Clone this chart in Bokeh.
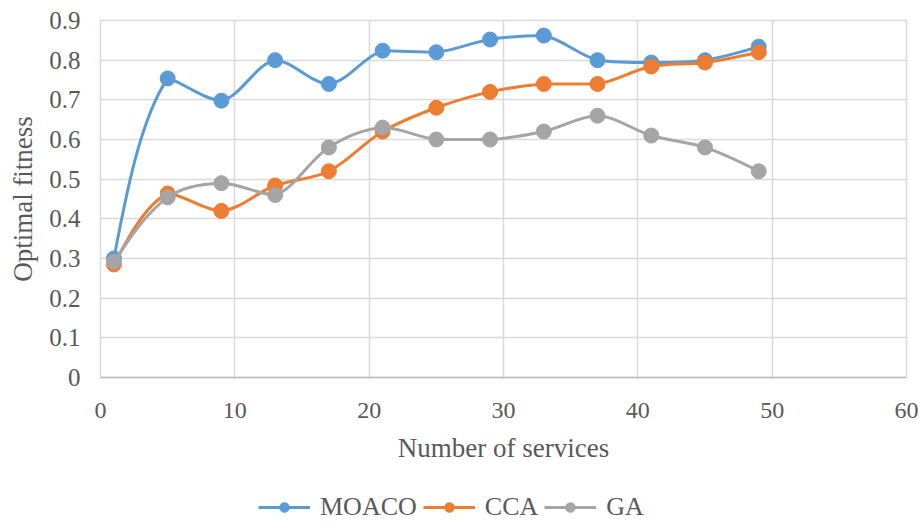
from bokeh.plotting import figure
from bokeh.models import Legend, LegendItem, ColumnDataSource, FixedTicker, Range1d
from bokeh.layouts import column
from bokeh.embed import file_html
from bokeh.resources import INLINE
import math

services = [1, 5, 9, 13, 17, 21, 25, 29, 33, 37, 41, 45, 49]
moaco = [0.30, 0.754, 0.698, 0.80, 0.74, 0.824, 0.82, 0.852, 0.862, 0.80, 0.794, 0.80, 0.834]
cca = [0.285, 0.464, 0.42, 0.484, 0.52, 0.62, 0.68, 0.72, 0.74, 0.74, 0.784, 0.794, 0.82]
ga = [0.292, 0.454, 0.49, 0.46, 0.58, 0.63, 0.60, 0.60, 0.62, 0.66, 0.61, 0.58, 0.52]
series_names = ["MOACO", "CCA", "GA"]
colors = ["#5B9BD5", "#ED7D31", "#A5A5A5"]
x_ticks = [0, 10, 20, 30, 40, 50, 60]
y_ticks = [0, 0.1, 0.2, 0.3, 0.4, 0.5, 0.6, 0.7, 0.8, 0.9]

FONT = "Liberation Serif"
TXT = "#595959"
GRID = "#D9D9D9"

p = figure(width=921, height=486, output_backend="svg", toolbar_location=None,
           x_range=Range1d(0, 60), y_range=Range1d(0, 0.9),
           min_border_left=100, min_border_right=15, min_border_top=20, min_border_bottom=109)
p.outline_line_color = GRID
p.outline_line_width = 1.5
p.background_fill_color = "white"
p.border_fill_color = "white"

for ax in (p.xaxis[0], p.yaxis[0]):
    ax.major_tick_line_color = None
    ax.minor_tick_line_color = None
    ax.major_label_text_font = FONT
    ax.major_label_text_font_size = "24px"
    ax.major_label_text_color = TXT
    ax.axis_label_text_font = FONT
    ax.axis_label_text_font_size = "27px"
    ax.axis_label_text_font_style = "normal"
    ax.axis_label_text_color = TXT
p.xaxis.ticker = FixedTicker(ticks=x_ticks)
p.yaxis.ticker = FixedTicker(ticks=y_ticks)
p.yaxis.major_label_text_font_size = "25px"
p.yaxis.major_label_overrides = {t: ("0" if t == 0 else f"{t:.1f}") for t in y_ticks}
p.xaxis.axis_line_color = "#BFBFBF"
p.xaxis.axis_line_width = 1.5
p.yaxis.axis_line_color = None
p.xaxis.axis_label = "Number of services"
p.yaxis.axis_label = "Optimal fitness"
p.xaxis.major_label_standoff = 19
p.xaxis.axis_label_standoff = 12
p.yaxis.major_label_standoff = 14
p.yaxis.axis_label_standoff = 8
p.grid.grid_line_color = GRID
p.grid.grid_line_width = 1.5

# approximate screen scale of the frame (px per data unit), used only for curve smoothing
SX = 806 / 60.0
SY = 357 / 0.9


def bezier_source(xs, ys):
    n = len(xs)
    pts = [(x * SX, y * SY) for x, y in zip(xs, ys)]
    dist = [math.hypot(pts[i + 1][0] - pts[i][0], pts[i + 1][1] - pts[i][1]) for i in range(n - 1)]

    def tangent(i):
        a, b = pts[i - 1], pts[i + 1]
        dd = dist[i - 1] + dist[i]
        return ((b[0] - a[0]) / dd, (b[1] - a[1]) / dd)

    ctrl = []
    for i in range(n - 1):
        L = dist[i] / 3.0
        c0 = c1 = None
        if i > 0:
            t = tangent(i)
            c0 = [pts[i][0] + t[0] * L, pts[i][1] + t[1] * L]
        if i + 1 < n - 1:
            t = tangent(i + 1)
            c1 = [pts[i + 1][0] - t[0] * L, pts[i + 1][1] - t[1] * L]
        # end segments: aim the free end toward the inner control point
        if c0 is None:
            tx, ty = c1[0] - pts[i][0], c1[1] - pts[i][1]
            nn = math.hypot(tx, ty)
            c0 = [pts[i][0] + tx / nn * L, pts[i][1] + ty / nn * L]
        if c1 is None:
            tx, ty = c0[0] - pts[i + 1][0], c0[1] - pts[i + 1][1]
            nn = math.hypot(tx, ty)
            c1 = [pts[i + 1][0] + tx / nn * L, pts[i + 1][1] + ty / nn * L]
        lo, hi = min(pts[i][1], pts[i + 1][1]), max(pts[i][1], pts[i + 1][1])
        c0[1] = min(max(c0[1], lo), hi)
        c1[1] = min(max(c1[1], lo), hi)
        ctrl.append((c0, c1))

    d = dict(x0=[], y0=[], x1=[], y1=[], cx0=[], cy0=[], cx1=[], cy1=[])
    for i, (c0, c1) in enumerate(ctrl):
        d["x0"].append(xs[i]); d["y0"].append(ys[i])
        d["x1"].append(xs[i + 1]); d["y1"].append(ys[i + 1])
        d["cx0"].append(c0[0] / SX); d["cy0"].append(c0[1] / SY)
        d["cx1"].append(c1[0] / SX); d["cy1"].append(c1[1] / SY)
    return ColumnDataSource(d)


series = [moaco, cca, ga]
for name, vals, col in zip(series_names, series, colors):
    src = bezier_source(services, vals)
    p.bezier(x0="x0", y0="y0", x1="x1", y1="y1", cx0="cx0", cy0="cy0",
             cx1="cx1", cy1="cy1", source=src, line_color=col, line_width=3)
    p.scatter(services, vals, size=15, fill_color=col, line_color=col, marker="circle")

# legend strip below the chart (same styles as the series; data lies outside its view)
lg = figure(width=921, height=38, output_backend="svg", toolbar_location=None,
            x_range=Range1d(0, 1), y_range=Range1d(10, 11),
            min_border_left=0, min_border_right=0, min_border_top=0, min_border_bottom=0)
lg.xaxis.visible = False
lg.yaxis.visible = False
lg.grid.visible = False
lg.outline_line_color = None
items = []
for name, vals, col in zip(series_names, series, colors):
    l1 = lg.line(x=services, y=vals, line_color=col, line_width=3)
    l2 = lg.scatter(x=services, y=vals, size=12, fill_color=col, line_color=col, marker="circle")
    items.append(LegendItem(label=name, renderers=[l1, l2]))
legend = Legend(items=items, orientation="horizontal", location=(158, 2),
                label_text_font=FONT, label_text_font_size="26px", label_text_color=TXT,
                glyph_width=52, glyph_height=24, label_height=24, label_standoff=10, spacing=6,
                padding=0, margin=0, border_line_color=None, background_fill_alpha=0)
lg.add_layout(legend, "center")

open("out.html", "w").write(file_html(column(p, lg, spacing=0), INLINE))
